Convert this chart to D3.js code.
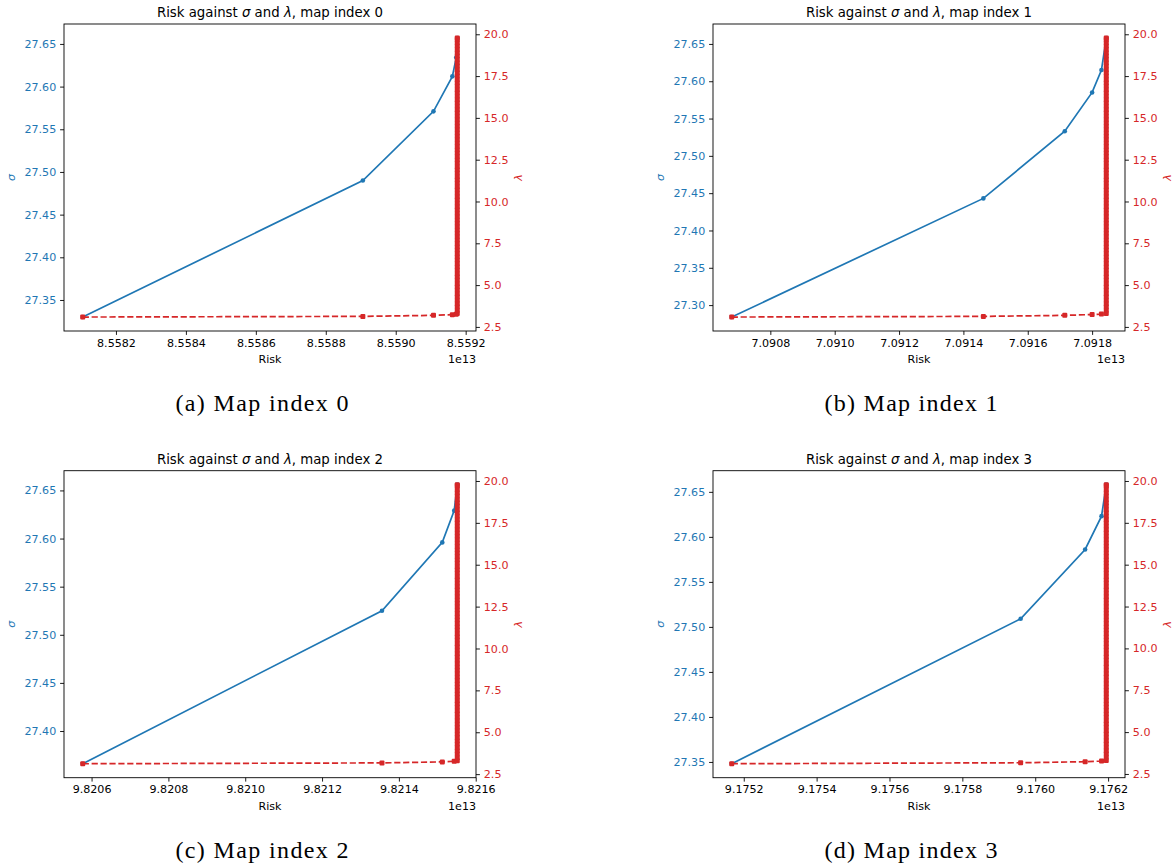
<!DOCTYPE html>
<html>
<head>
<meta charset="utf-8">
<script src="https://cdn.jsdelivr.net/npm/d3@7"></script>
<style>
  body { margin: 0; background: #fff; }
  svg { display: block; }
</style>
</head>
<body>
<svg id="fig" width="1174" height="867"></svg>
<script>
// Risk (in units of 1e13), sigma and lambda along each run; the last entry is
// where risk and sigma stop moving and only lambda keeps climbing.
const risk0   = [8.558105, 8.558906, 8.559108, 8.559162, 8.559173, 8.559176];
const sigma0  = [27.330, 27.490, 27.571, 27.612, 27.634, 27.657];
const lambda0 = [3.09, 3.13, 3.19, 3.23, 3.26, 3.30];

const risk1   = [7.090680, 7.091462, 7.091715, 7.091800, 7.091829, 7.091844];
const sigma1  = [27.284, 27.443, 27.533, 27.585, 27.615, 27.658];
const lambda1 = [3.09, 3.13, 3.19, 3.24, 3.27, 3.30];

const risk2   = [9.820577, 9.821356, 9.821513, 9.821544, 9.821552];
const sigma2  = [27.366, 27.525, 27.596, 27.629, 27.656];
const lambda2 = [3.12, 3.17, 3.23, 3.27, 3.30];

const risk3   = [9.175167, 9.175960, 9.176137, 9.176182, 9.176195];
const sigma3  = [27.348, 27.509, 27.586, 27.623, 27.658];
const lambda3 = [3.11, 3.17, 3.23, 3.27, 3.30];

// lambda values reached once risk has saturated (same for every map)
const lambdaSweep = [3.5,3.7,3.9,4.1,4.3,4.5,4.7,4.9,5.1,5.3,5.5,5.7,5.9,6.1,6.3,6.5,6.7,6.9,
  7.1,7.3,7.5,7.7,7.9,8.1,8.3,8.5,8.7,8.9,9.1,9.3,9.5,9.7,9.9,10.1,10.3,10.5,10.7,10.9,
  11.1,11.3,11.5,11.7,11.9,12.1,12.3,12.5,12.7,12.9,13.1,13.3,13.5,13.7,13.9,14.1,14.3,
  14.5,14.7,14.9,15.1,15.3,15.5,15.7,15.9,16.1,16.3,16.5,16.7,16.9,17.1,17.3,17.5,17.7,
  17.9,18.1,18.3,18.5,18.7,18.9,19.1,19.3,19.5,19.7,19.78];

const riskTicks0 = [8.5582, 8.5584, 8.5586, 8.5588, 8.5590, 8.5592];
const riskTicks1 = [7.0908, 7.0910, 7.0912, 7.0914, 7.0916, 7.0918];
const riskTicks2 = [9.8206, 9.8208, 9.8210, 9.8212, 9.8214, 9.8216];
const riskTicks3 = [9.1752, 9.1754, 9.1756, 9.1758, 9.1760, 9.1762];

const sigmaTicks0 = [27.35, 27.40, 27.45, 27.50, 27.55, 27.60, 27.65];
const sigmaTicks1 = [27.30, 27.35, 27.40, 27.45, 27.50, 27.55, 27.60, 27.65];
const sigmaTicks2 = [27.40, 27.45, 27.50, 27.55, 27.60, 27.65];
const sigmaTicks3 = [27.35, 27.40, 27.45, 27.50, 27.55, 27.60, 27.65];

const lambdaTicks = [2.5, 5.0, 7.5, 10.0, 12.5, 15.0, 17.5, 20.0];

const mapIndex = [0, 1, 2, 3];
const captions = ["(a) Map index 0", "(b) Map index 1", "(c) Map index 2", "(d) Map index 3"];

const panels = [
  { risk: risk0, sigma: sigma0, lambda: lambda0, rTicks: riskTicks0, sTicks: sigmaTicks0 },
  { risk: risk1, sigma: sigma1, lambda: lambda1, rTicks: riskTicks1, sTicks: sigmaTicks1 },
  { risk: risk2, sigma: sigma2, lambda: lambda2, rTicks: riskTicks2, sTicks: sigmaTicks2 },
  { risk: risk3, sigma: sigma3, lambda: lambda3, rTicks: riskTicks3, sTicks: sigmaTicks3 }
];

const BLUE = "#1f77b4", RED = "#d62728";
const FONT = "'DejaVu Sans', sans-serif";
const TICK_PX = 11.1, TITLE_PX = 13.3;
const plotW = 412, plotH = 307;
const lefts = [64, 713], tops = [24, 470.7];
const SQ = 5; // red square marker side

const svg = d3.select("#fig");

// 5% margin on both sides of the data range
function padded(values) {
  const [lo, hi] = d3.extent(values);
  const m = (hi - lo) * 0.05;
  return [lo - m, hi + m];
}

function styleAxis(g, color) {
  g.select(".domain").remove();
  g.selectAll(".tick line").attr("stroke", "#000").attr("stroke-width", 0.9);
  g.selectAll(".tick text")
    .attr("fill", color)
    .attr("font-family", FONT)
    .attr("font-size", TICK_PX);
}

panels.forEach((p, i) => {
  const left = lefts[i % 2], top = tops[Math.floor(i / 2)];
  const right = left + plotW, bottom = top + plotH;
  const g = svg.append("g");

  const last = p.risk.length - 1;
  const x = d3.scaleLinear().domain(padded(p.risk)).range([left, right]);
  const yS = d3.scaleLinear().domain(padded(p.sigma)).range([bottom, top]);
  const yL = d3.scaleLinear().domain(padded(p.lambda.concat(lambdaSweep))).range([bottom, top]);

  // sigma curve
  const sigmaPts = p.risk.map((r, k) => [r, p.sigma[k]]);
  g.append("path")
    .datum(sigmaPts)
    .attr("fill", "none")
    .attr("stroke", BLUE)
    .attr("stroke-width", 1.7)
    .attr("d", d3.line().x(d => x(d[0])).y(d => yS(d[1])));
  g.append("g").selectAll("circle").data(sigmaPts).join("circle")
    .attr("cx", d => x(d[0])).attr("cy", d => yS(d[1]))
    .attr("r", 2.3).attr("fill", BLUE);

  // lambda curve: the approach, then the sweep at saturated risk
  const lambdaPts = p.risk.map((r, k) => [r, p.lambda[k]])
    .concat(lambdaSweep.map(l => [p.risk[last], l]));
  g.append("path")
    .datum(lambdaPts)
    .attr("fill", "none")
    .attr("stroke", RED)
    .attr("stroke-width", 1.7)
    .attr("stroke-dasharray", "6.2,2.7")
    .attr("d", d3.line().x(d => x(d[0])).y(d => yL(d[1])));
  g.append("g").selectAll("rect").data(lambdaPts).join("rect")
    .attr("x", d => x(d[0]) - SQ / 2).attr("y", d => yL(d[1]) - SQ / 2)
    .attr("width", SQ).attr("height", SQ).attr("rx", 1)
    .attr("fill", RED);

  // axes
  const ax = g.append("g").attr("transform", `translate(0,${bottom})`)
    .call(d3.axisBottom(x).tickValues(p.rTicks).tickFormat(d3.format(".4f"))
      .tickSizeOuter(0).tickSize(3.9).tickPadding(3.9));
  styleAxis(ax, "#000");

  const ay = g.append("g").attr("transform", `translate(${left},0)`)
    .call(d3.axisLeft(yS).tickValues(p.sTicks).tickFormat(d3.format(".2f"))
      .tickSizeOuter(0).tickSize(3.9).tickPadding(3.9));
  styleAxis(ay, BLUE);

  const ar = g.append("g").attr("transform", `translate(${right},0)`)
    .call(d3.axisRight(yL).tickValues(lambdaTicks).tickFormat(d3.format(".1f"))
      .tickSizeOuter(0).tickSize(3.9).tickPadding(3.9));
  styleAxis(ar, RED);

  // frame
  g.append("rect")
    .attr("x", left).attr("y", top).attr("width", plotW).attr("height", plotH)
    .attr("fill", "none").attr("stroke", "#000").attr("stroke-width", 0.9);

  // title
  const t = g.append("text")
    .attr("x", left + plotW / 2).attr("y", top - 7)
    .attr("text-anchor", "middle")
    .attr("font-family", FONT).attr("font-size", TITLE_PX).attr("fill", "#000");
  t.append("tspan").text("Risk against ");
  t.append("tspan").attr("font-style", "italic").text("σ");
  t.append("tspan").text(" and ");
  t.append("tspan").attr("font-style", "italic").text("λ");
  t.append("tspan").text(`, map index ${mapIndex[i]}`);

  // axis labels
  g.append("text")
    .attr("x", left + plotW / 2).attr("y", bottom + 32)
    .attr("text-anchor", "middle")
    .attr("font-family", FONT).attr("font-size", TICK_PX).attr("fill", "#000")
    .text("Risk");
  g.append("text")
    .attr("x", right).attr("y", bottom + 32)
    .attr("text-anchor", "end")
    .attr("font-family", FONT).attr("font-size", TICK_PX).attr("fill", "#000")
    .text("1e13");

  g.append("text")
    .attr("transform", `translate(${left - 49},${top + plotH / 2}) rotate(-90)`)
    .attr("text-anchor", "middle")
    .attr("font-family", FONT).attr("font-style", "italic")
    .attr("font-size", TICK_PX).attr("fill", BLUE)
    .text("σ");
  g.append("text")
    .attr("transform", `translate(${right + 46},${top + plotH / 2}) rotate(-90)`)
    .attr("text-anchor", "middle")
    .attr("font-family", FONT).attr("font-style", "italic")
    .attr("font-size", TICK_PX).attr("fill", RED)
    .text("λ");

  // sub-figure caption
  g.append("text")
    .attr("x", left + 198).attr("y", top + 387)
    .attr("text-anchor", "middle")
    .attr("font-family", "'Liberation Serif', 'DejaVu Serif', serif")
    .attr("font-size", 24).attr("fill", "#000")
    .attr("textLength", 173)
    .text(captions[i]);
});
</script>
</body>
</html>
